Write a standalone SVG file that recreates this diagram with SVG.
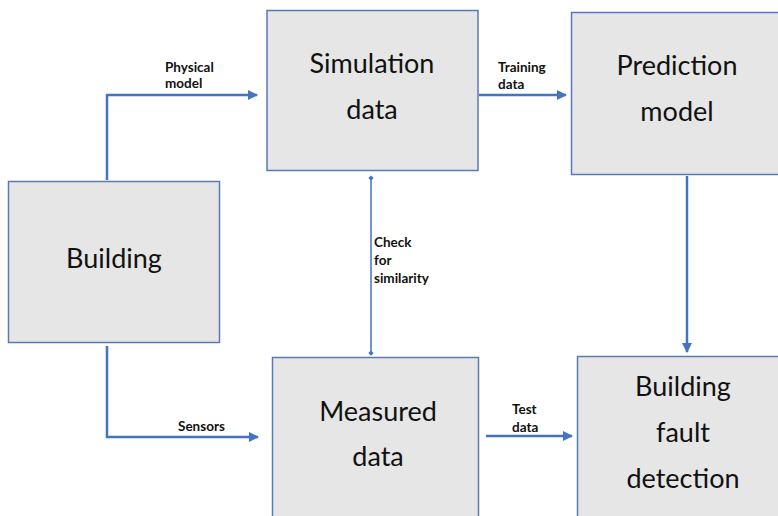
<svg xmlns="http://www.w3.org/2000/svg" width="778" height="516" viewBox="0 0 778 516">
  <style>
    .box { fill: #e6e6e6; stroke: #5b7ab4; stroke-width: 1.5; }
    .big { font-family: Lato, "Open Sans", "Liberation Sans", sans-serif; font-size: 27px; fill: #111; text-anchor: middle; }
    .lbl { font-family: Lato, "Open Sans", "Liberation Sans", sans-serif; font-size: 13.5px; font-weight: bold; fill: #111; }
    .wire { fill: none; stroke: #4472c4; stroke-width: 2.5; }
    .thin { fill: none; stroke: #4472c4; stroke-width: 1.5; }
  </style>
  <defs>
    <marker id="arrow" viewBox="0 0 10 10" refX="9" refY="5" markerWidth="4" markerHeight="4" orient="auto" markerUnits="strokeWidth">
      <path d="M0,0 L10,5 L0,10 z" fill="#4472c4"/>
    </marker>
    <marker id="dot" viewBox="0 0 10 10" refX="5" refY="5" markerWidth="3.5" markerHeight="3.5" orient="auto" markerUnits="strokeWidth">
      <path d="M5,0 L10,5 L5,10 L0,5 z" fill="#4472c4"/>
    </marker>
  </defs>

  <rect width="778" height="516" fill="#ffffff"/>

  <g id="connectors">
    <path class="wire" d="M107,180 V95 H257" marker-end="url(#arrow)"/>
    <path class="wire" d="M107,346 V437 H258" stroke="#3f65ad" marker-end="url(#arrow)"/>
    <path class="wire" d="M479,95 H566" marker-end="url(#arrow)"/>
    <path class="wire" d="M486,436 H572" marker-end="url(#arrow)"/>
    <path class="wire" d="M687,176 V352" marker-end="url(#arrow)"/>
    <path class="thin" d="M371,178 V353" marker-start="url(#dot)" marker-end="url(#dot)"/>
    <text class="lbl" x="165" y="72">Physical</text>
    <text class="lbl" x="165" y="88">model</text>
    <text class="lbl" x="178" y="431">Sensors</text>
    <text class="lbl" x="498" y="72">Training</text>
    <text class="lbl" x="498" y="89">data</text>
    <text class="lbl" x="512" y="414">Test</text>
    <text class="lbl" x="512" y="432">data</text>
    <text class="lbl" x="374" y="247">Check</text>
    <text class="lbl" x="374" y="265">for</text>
    <text class="lbl" x="374" y="283">similarity</text>
  </g>

  <g id="building">
    <rect class="box" x="8.5" y="181.5" width="211" height="161"/>
    <text class="big" x="114" y="268">Building</text>
  </g>

  <g id="simulation-data">
    <rect class="box" x="267" y="10.5" width="211" height="160"/>
    <text class="big" x="372" y="73">Simulation</text>
    <text class="big" x="372" y="119">data</text>
  </g>

  <g id="prediction-model">
    <rect class="box" x="571.5" y="12.5" width="208" height="162"/>
    <text class="big" x="677" y="75">Prediction</text>
    <text class="big" x="677" y="121">model</text>
  </g>

  <g id="measured-data">
    <rect class="box" x="272.5" y="357.5" width="206" height="162"/>
    <text class="big" x="378" y="421">Measured</text>
    <text class="big" x="378" y="466">data</text>
  </g>

  <g id="fault-detection">
    <rect class="box" x="577.5" y="356.5" width="204" height="163"/>
    <text class="big" x="683" y="396">Building</text>
    <text class="big" x="683" y="442">fault</text>
    <text class="big" x="683" y="488">detection</text>
  </g>
</svg>
